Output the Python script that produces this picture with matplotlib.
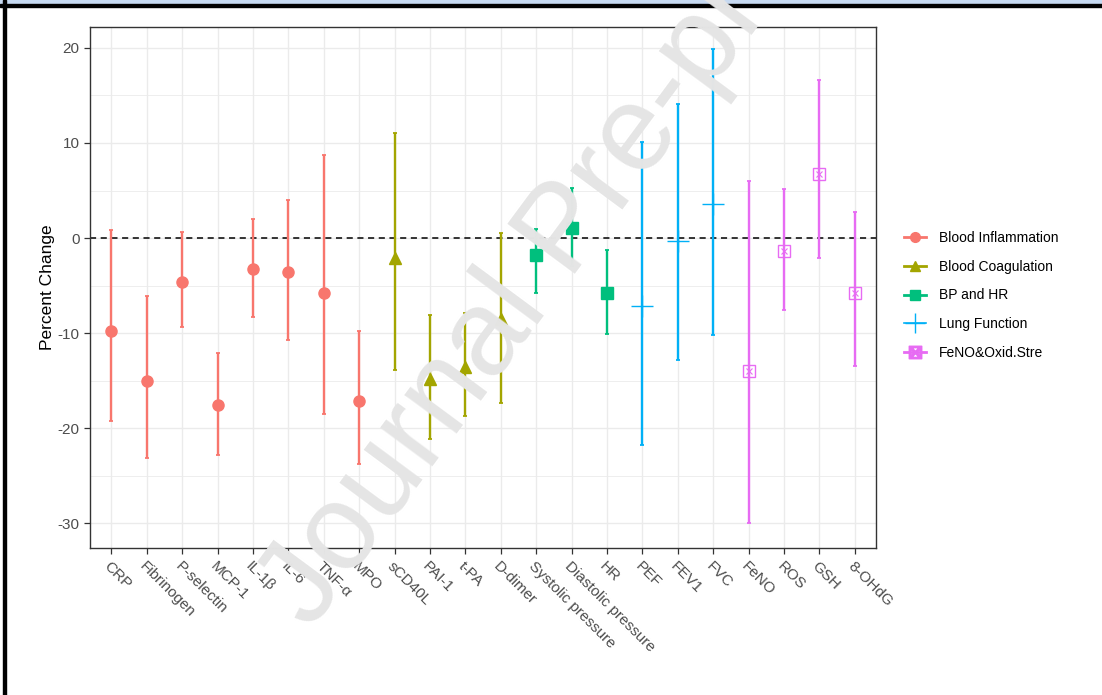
import numpy as np
import matplotlib.pyplot as plt
from matplotlib.lines import Line2D
from matplotlib.patches import Rectangle

plt.rcParams['font.family'] = ['Liberation Sans', 'DejaVu Sans']
plt.rcParams['axes.unicode_minus'] = False

# data
markers = ["CRP", "Fibrinogen", "P-selectin", "MCP-1", "IL-1β", "IL-6", "TNF-α", "MPO",
           "sCD40L", "PAI-1", "t-PA", "D-dimer",
           "Systolic pressure", "Diastolic pressure", "HR",
           "PEF", "FEV1", "FVC",
           "FeNO", "ROS", "GSH", "8-OHdG"]
groups = ["Blood Inflammation"] * 8 + ["Blood Coagulation"] * 4 + ["BP and HR"] * 3 \
    + ["Lung Function"] * 3 + ["FeNO&Oxid.Stre"] * 4
est = [-9.8, -15.0, -4.6, -17.6, -3.3, -3.6, -5.8, -17.1,
       -2.1, -14.8, -13.6, -8.5,
       -1.8, 1.1, -5.8,
       -7.1, -0.3, 3.6,
       -14.0, -1.4, 6.7, -5.8]
lower = [-19.2, -23.1, -9.4, -22.8, -8.3, -10.7, -18.5, -23.8,
         -13.9, -21.1, -18.7, -17.3,
         -5.8, -2.9, -10.1,
         -21.8, -12.8, -10.2,
         -30.0, -7.6, -2.1, -13.5]
upper = [0.8, -6.1, 0.6, -12.1, 2.0, 4.0, 8.7, -9.8,
         11.1, -8.1, -7.9, 0.5,
         1.0, 5.3, -1.3,
         10.1, 14.1, 19.9,
         6.0, 5.2, 16.6, 2.7]

group_names = ["Blood Inflammation", "Blood Coagulation", "BP and HR", "Lung Function", "FeNO&Oxid.Stre"]
group_colors = ["#F8766D", "#A3A500", "#00BF7D", "#00B0F6", "#E76BF3"]
group_marks = ["o", "^", "s", "+", "sx"]

fig = plt.figure(figsize=(11.02, 6.95), dpi=100)
ax = fig.add_axes([0.0817, 0.2115, 0.7133, 0.7497])

x = np.arange(len(markers))
est = np.array(est); lower = np.array(lower); upper = np.array(upper)
grp = np.array(groups)

for name, col, mk in zip(group_names, group_colors, group_marks):
    m = grp == name
    ax.errorbar(x[m], est[m], yerr=[est[m] - lower[m], upper[m] - est[m]], fmt="none",
                ecolor=col, elinewidth=1.7, capsize=1.5, capthick=1.3, zorder=3)
    if mk == "sx":
        ax.plot(x[m], est[m], ls="none", marker="s", ms=8, mfc="none", mec=col, mew=1.0, zorder=4)
        ax.plot(x[m], est[m], ls="none", marker="x", ms=5, mec=col, mew=0.8, zorder=4)
    elif mk == "+":
        ax.plot(x[m], est[m], ls="none", marker="+", ms=16, mec=col, mew=1.0, zorder=4)
    else:
        ax.plot(x[m], est[m], ls="none", marker=mk, ms=8, color=col, zorder=4)

ax.axhline(0, color="black", ls=(0, (4, 3)), lw=1.1, zorder=2)

ax.set_xlim(-0.6, len(markers) - 0.4)
ax.set_ylim(-32.6, 22.2)
ax.set_yticks([-30, -20, -10, 0, 10, 20])
ax.set_yticks([-25, -15, -5, 5, 15], minor=True)
ax.set_xticks(x)
ax.set_xticklabels(markers, rotation=-45, ha="left", va="top", rotation_mode="anchor")
ax.grid(which="major", color="#EBEBEB", lw=1.0, zorder=0)
ax.grid(which="minor", axis="y", color="#EBEBEB", lw=0.6, zorder=0)
ax.set_axisbelow(True)
ax.tick_params(axis="both", which="major", length=4, color="#333333", labelcolor="#4D4D4D",
               labelsize=11, width=0.9)
ax.tick_params(axis="y", which="minor", length=0)
ax.tick_params(axis="x", pad=4)
for s in ax.spines.values():
    s.set_color("#333333")
    s.set_linewidth(1.0)
ax.set_ylabel("Percent Change", fontsize=12.5, color="black", labelpad=2)

handles = []
for name, col, mk in zip(group_names, group_colors, group_marks):
    if mk == "sx":
        h = Line2D([], [], color=col, lw=2, marker="$\\boxtimes$", ms=9, mec=col)
    elif mk == "+":
        h = Line2D([], [], color=col, lw=1.2, marker="+", ms=14, mew=1.0)
    else:
        h = Line2D([], [], color=col, lw=2, marker=mk, ms=7)
    handles.append(h)
leg = fig.legend(handles, group_names, loc="center left", bbox_to_anchor=(0.809, 0.575),
                 frameon=False, fontsize=10, handlelength=1.6, labelspacing=1.05,
                 handletextpad=0.9)

# frame remnants and watermark of the source page
fig.patches.append(Rectangle((0, 1 - 4 / 695), 1, 4 / 695, transform=fig.transFigure,
                             color="#C6D9F1", zorder=0))
fig.patches.append(Rectangle((0, 1 - 6.5 / 695), 1, 2.5 / 695, transform=fig.transFigure,
                             color="black", zorder=0))
fig.patches.append(Rectangle((3 / 1102, 0), 3 / 1102, 1, transform=fig.transFigure,
                             color="black", zorder=0))
fig.text(0.514, 0.665, "Journal Pre-proof", fontsize=88, color="#E5E5E5", rotation=53.5,
         ha="center", va="center", rotation_mode="anchor", zorder=10)

fig.savefig("out.png", dpi=100)
